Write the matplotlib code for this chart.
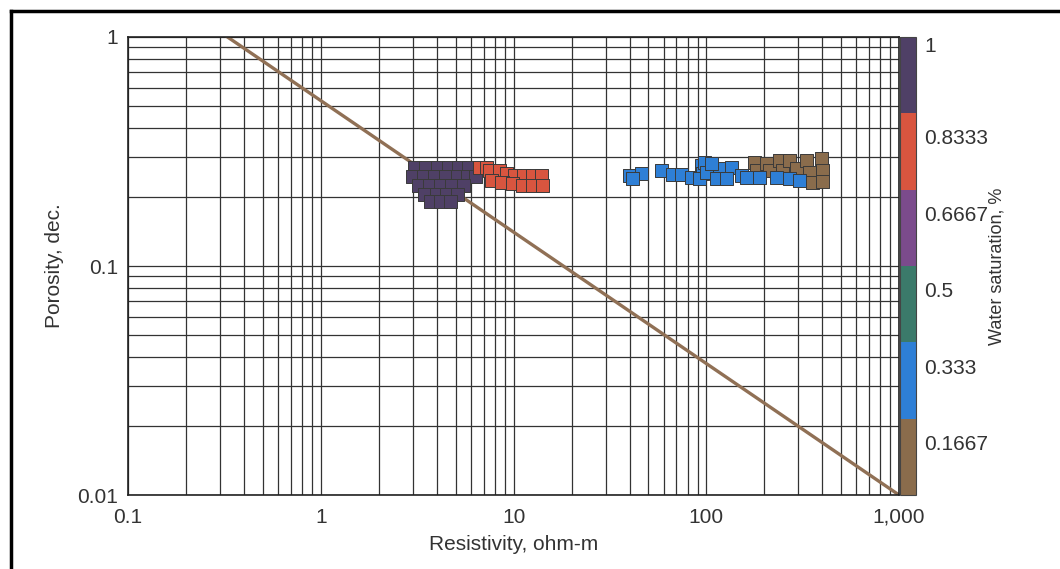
import numpy as np
import matplotlib.pyplot as plt
from matplotlib.colors import ListedColormap, Normalize
from matplotlib.lines import Line2D
from matplotlib.transforms import ScaledTranslation

plt.rcParams['font.family'] = ['Liberation Sans', 'DejaVu Sans']

# resistivity (ohm-m) and porosity (dec.) for each saturation group
rt_sw100 = [3.08, 3.51, 4.01, 4.57, 5.21, 5.87,
            3.00, 3.43, 3.91, 4.46, 5.09, 5.80, 6.31,
            3.23, 3.68, 4.20, 4.79, 5.47,
            3.47, 3.96, 4.51, 5.09,
            3.73, 4.20, 4.73]
phi_sw100 = [0.269, 0.269, 0.269, 0.269, 0.269, 0.269,
             0.246, 0.246, 0.246, 0.246, 0.246, 0.246, 0.246,
             0.224, 0.224, 0.224, 0.224, 0.224,
             0.205, 0.205, 0.205, 0.205,
             0.191, 0.191, 0.191]

rt_sw83 = [6.62, 7.20, 7.46, 8.41, 9.14, 10.06, 11.3, 12.5, 13.9,
           7.64, 8.71, 9.82, 11.1, 12.5, 14.1]
phi_sw83 = [0.269, 0.268, 0.261, 0.261, 0.253, 0.248, 0.248, 0.248, 0.248,
            0.236, 0.231, 0.229, 0.224, 0.224, 0.224]

rt_sw16 = [178, 182, 205, 213, 239, 248, 270, 294, 331, 343, 396, 401, 356, 400]
phi_sw16 = [0.283, 0.261, 0.280, 0.261, 0.289, 0.261, 0.289, 0.266, 0.289,
            0.256, 0.294, 0.261, 0.231, 0.233]

rt_sw33 = [39.8, 45.9, 41.3, 58.4, 66.6, 74.1, 83.5, 94.2, 95.3, 92.0,
           97.6, 100, 117, 135, 113, 127, 152, 161, 188, 231, 270, 304, 106]
phi_sw33 = [0.248, 0.253, 0.241, 0.261, 0.251, 0.251, 0.243, 0.275, 0.253, 0.241,
            0.283, 0.256, 0.266, 0.269, 0.241, 0.241, 0.248, 0.243, 0.243, 0.243,
            0.241, 0.236, 0.280]

groups = [(rt_sw100, phi_sw100, 1.0),
          (rt_sw83, phi_sw83, 0.8),
          (rt_sw16, phi_sw16, 0.15),
          (rt_sw33, phi_sw33, 0.3)]

# Sw = 1 line
line_rt = [0.328, 1000]
line_phi = [1, 0.01]

cbar_ticks = [1, 0.8333, 0.6667, 0.5, 0.333, 0.1667]
cbar_labels = ['1', '0.8333', '0.6667', '0.5', '0.333', '0.1667']
seg_colors = ['#8a6c4c', '#2e7fd6', '#3b7a6a', '#7b4b8c', '#d8553f', '#4f4066']
cmap = ListedColormap(seg_colors)
norm = Normalize(0, 1)

fig = plt.figure(figsize=(10.6, 5.69), dpi=100)
ax = fig.add_axes([0.1208, 0.130, 0.7274, 0.805])
cax = fig.add_axes([0.8491, 0.130, 0.0151, 0.805])

ax.set_xscale('log')
ax.set_yscale('log')
ax.set_xlim(0.1, 1000)
ax.set_ylim(0.01, 1)
ax.grid(True, which='both', color='#333333', lw=0.9)
ax.set_axisbelow(True)

ax.plot(line_rt, line_phi, color='#907055', lw=2.4, zorder=2)

for rt, phi, sw in groups:
    sc = ax.scatter(rt, phi, c=[sw] * len(rt), cmap=cmap, norm=norm, marker='s',
                    s=88, edgecolors='#3a3a3a', linewidths=0.7, zorder=3)

ax.set_xticks([0.1, 1, 10, 100, 1000])
ax.set_xticklabels(['0.1', '1', '10', '100', '1,000'])
ax.set_yticks([0.01, 0.1, 1])
ax.set_yticklabels(['0.01', '0.1', '1'])
ax.xaxis.set_minor_formatter(plt.NullFormatter())
ax.yaxis.set_minor_formatter(plt.NullFormatter())
ax.tick_params(which='both', length=0, labelsize=15, colors='#333333')
ax.tick_params(axis='x', pad=9)
ax.tick_params(axis='y', pad=7)
for sp in ax.spines.values():
    sp.set_color('#222222')
    sp.set_linewidth(1.2)

ax.set_xlabel('Resistivity, ohm-m', fontsize=15, color='#333333', labelpad=6)
ax.set_ylabel('Porosity, dec.', fontsize=15, color='#333333', labelpad=10)

cbar = fig.colorbar(sc, cax=cax, ticks=cbar_ticks)
cbar.ax.set_yticklabels(cbar_labels)
cbar.ax.tick_params(length=0, labelsize=15, colors='#333333', pad=6)
cbar.outline.set_edgecolor('#444444')
cbar.set_label('Water saturation, %', fontsize=13, color='#333333', labelpad=0)
for i, t in enumerate(cbar.ax.get_yticklabels()):
    t.set_va('top')
    if i > 0:
        t.set_transform(t.get_transform() + ScaledTranslation(0, -0.16, fig.dpi_scale_trans))

# page frame
fig.add_artist(Line2D([0.0104, 0.0104], [0, 0.981], transform=fig.transFigure, color='black', lw=2.5))
fig.add_artist(Line2D([0.0104, 1.0], [0.981, 0.981], transform=fig.transFigure, color='black', lw=2.5))

fig.savefig('out.png', dpi=100)
